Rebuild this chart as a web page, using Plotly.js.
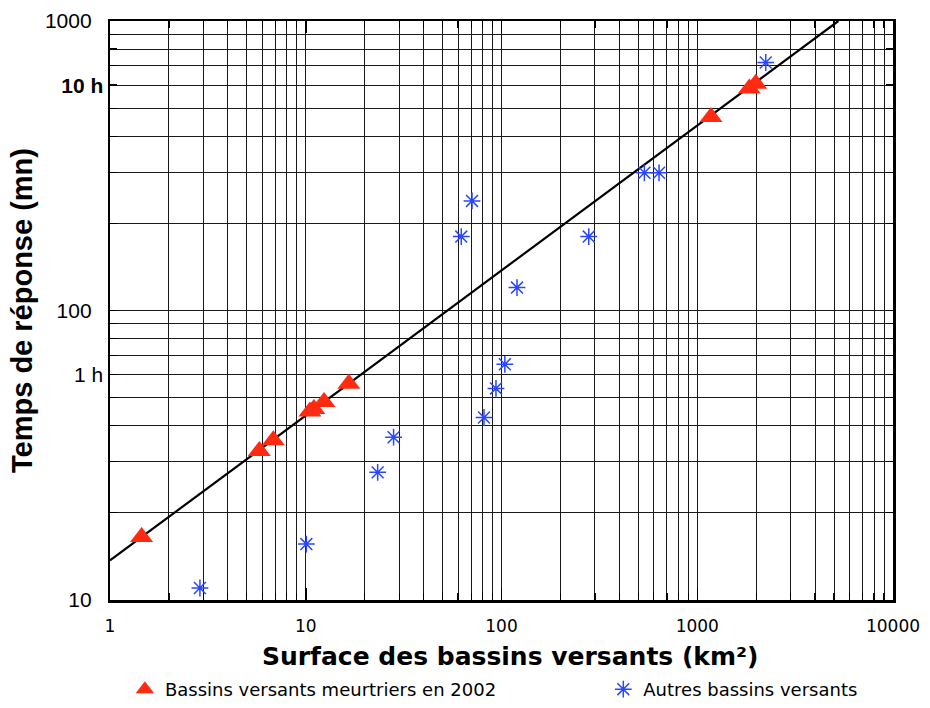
<!DOCTYPE html>
<html>
<head>
<meta charset="utf-8">
<script src="https://cdn.plot.ly/plotly-3.0.1.min.js"></script>
<style>html,body{margin:0;padding:0;background:#fff;}#chart{width:930px;height:708px;}</style>
</head>
<body>
<div id="chart"></div>
<script>
// Red triangles: deadly catchments in 2002 (area km², response time mn)
const areaDeadly = [1.45, 5.79, 6.83, 10.5, 11.0, 12.4, 16.6, 1176, 1845, 1990];
const timeDeadly = [16.5, 32.7, 35.6, 44.8, 45.7, 48.3, 55.8, 466, 584, 607];

// Blue asterisks: other catchments
const areaOther = [2.88, 10.07, 23.3, 28.1, 62.3, 70.7, 81.4, 93.7, 104, 120, 279, 537, 638, 2238];
const timeOther = [11.0, 15.6, 27.6, 36.5, 180, 239, 42.7, 53.8, 65.2, 120, 180, 299, 299, 719];

// Fitted line end points
const lineArea = [1, 5256];
const lineTime = [13.7, 1000];

// Tick labels
const xMajorVals = [1, 10, 100, 1000, 10000];
const xMajorText = ['1', '10', '100', '1000', '10000'];
const xMinorVals = [2,3,4,5,6,7,8,9,20,30,40,50,60,70,80,90,200,300,400,500,600,700,800,900,2000,3000,4000,5000,6000,7000,8000,9000];
const yMajorVals = [10, 60, 100, 600, 1000];
const yMajorText = ['10\u00a0\u00a0', '1 h', '100\u00a0\u00a0', '<b>10 h</b>', '1000\u00a0\u00a0'];
const yMinorVals = [20,30,40,50,70,80,90,200,300,400,500,700,800,900];

const legendNames = ['Bassins versants meurtriers en 2002', 'Autres bassins versants'];

const traces = [
  {
    x: lineArea, y: lineTime, mode: 'lines', type: 'scatter',
    line: {color: '#000', width: 2.2}, showlegend: false, hoverinfo: 'skip'
  },
  {
    x: areaDeadly, y: timeDeadly, mode: 'markers', type: 'scatter', name: legendNames[0],
    legend: 'legend',
    marker: {symbol: 'triangle-up', size: 20, color: '#ff2a10', line: {width: 0}}
  },
  {
    x: areaOther, y: timeOther, mode: 'markers', type: 'scatter', name: legendNames[1],
    legend: 'legend2',
    marker: {symbol: 'asterisk-open', size: 14, color: '#2a46ff', line: {color: '#2a46ff', width: 1.5}}
  }
];

const gridColor = '#1a1a1a';
const legendFont = {family: 'DejaVu Sans', size: 18, color: '#000'};

const layout = {
  width: 930, height: 708,
  margin: {l: 110, r: 37, t: 21, b: 108},
  paper_bgcolor: '#fff', plot_bgcolor: '#fff',
  showlegend: true,
  legend: {
    orientation: 'h', x: 0.019, xanchor: 'left', yref: 'container', y: 0, yanchor: 'bottom',
    font: legendFont, bgcolor: 'rgba(0,0,0,0)'
  },
  legend2: {
    orientation: 'h', x: 0.63, xanchor: 'left', yref: 'container', y: 0, yanchor: 'bottom',
    font: legendFont, bgcolor: 'rgba(0,0,0,0)'
  },
  xaxis: {
    type: 'log', range: [0, 4], autorange: false,
    tickmode: 'array', tickvals: xMajorVals, ticktext: xMajorText,
    ticks: 'inside', ticklen: 12, tickwidth: 1.5, tickcolor: '#000',
    showgrid: true, gridcolor: gridColor, gridwidth: 1,
    minor: {tickmode: 'array', tickvals: xMinorVals, ticks: 'inside', ticklen: 7, tickwidth: 1.2, tickcolor: '#000', showgrid: true, gridcolor: gridColor, gridwidth: 1},
    showline: true, linecolor: '#000', linewidth: 2.5, mirror: 'allticks',
    tickfont: {family: 'DejaVu Sans', size: 17, color: '#000'},
    ticklabelstandoff: 9,
    zeroline: false, automargin: false,
    title: {text: '<br>\u00a0\u00a0Surface des bassins versants (km²)', font: {family: 'DejaVu Sans', size: 25, color: '#000', weight: 'bold'}}
  },
  yaxis: {
    type: 'log', range: [1, 3], autorange: false,
    tickmode: 'array', tickvals: yMajorVals, ticktext: yMajorText,
    ticks: 'inside', ticklen: 7, tickwidth: 1.5, tickcolor: '#000',
    showgrid: true, gridcolor: gridColor, gridwidth: 1,
    minor: {tickmode: 'array', tickvals: yMinorVals, ticks: 'inside', ticklen: 7, tickwidth: 1.2, tickcolor: '#000', showgrid: true, gridcolor: gridColor, gridwidth: 1},
    showline: true, linecolor: '#000', linewidth: 2.5, mirror: 'allticks',
    tickfont: {family: 'Liberation Sans, Arial', size: 21, color: '#000'},
    ticklabelstandoff: 0,
    zeroline: false,
    title: {text: 'Temps de réponse (mn)', font: {family: 'Liberation Sans, Arial', size: 29, color: '#000', weight: 'bold'}, standoff: 4}
  }
};

Plotly.newPlot('chart', traces, layout, {displayModeBar: false, staticPlot: true});
</script>
</body>
</html>
